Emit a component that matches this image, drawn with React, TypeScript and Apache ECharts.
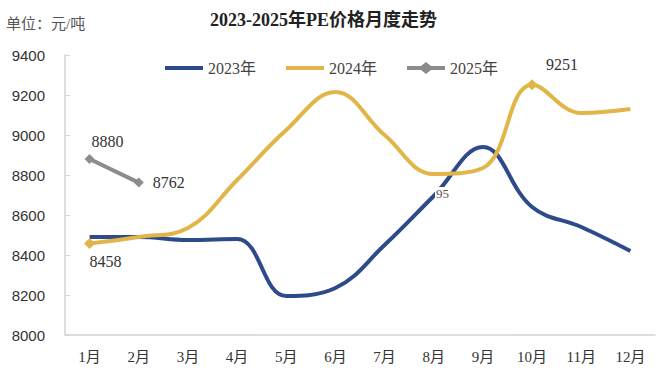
import React, { useEffect, useRef } from "react";
import * as echarts from "echarts";

const months = ["1月", "2月", "3月", "4月", "5月", "6月", "7月", "8月", "9月", "10月", "11月", "12月"];
const y2023 = [8490, 8490, 8475, 8480, 8195, 8235, 8450, 8695, 8940, 8640, 8540, 8420];
const y2024 = [8458, 8490, 8535, 8775, 9025, 9215, 9000, 8805, 8835, 9251, 9110, 9130];
const y2025 = [8880, 8762];
const yTicks = { min: 8000, max: 9400, interval: 200 };

const SERIF = "'Liberation Serif', 'DejaVu Serif', 'Noto Sans CJK SC', serif";
const SANS = "'Liberation Sans', Arial, 'Noto Sans CJK SC', sans-serif";

const LINE_ICON = "path://M0,3 H38 V7 H0 Z";
const DIAMOND_ICON = "path://M0,3 H14 L19,-1 L24,3 H38 V7 H24 L19,11 L14,7 H0 Z";

export default function App() {
  const ref = useRef<HTMLDivElement>(null);
  useEffect(() => {
    if (!ref.current) return;
    const chart = echarts.init(ref.current, null, { renderer: "svg" });
    const labelStyle = { fontFamily: SERIF, fontSize: 16, color: "#333" };
    chart.setOption({
      animation: false,
      backgroundColor: "#fff",
      title: {
        text: "2023-2025年PE价格月度走势",
        left: 205,
        top: 6,
        textStyle: { fontFamily: SERIF, fontSize: 18, fontWeight: "bold", color: "#222" },
      },
      graphic: [
        {
          type: "text",
          left: 6,
          top: 16,
          style: { text: "单位：元/吨", fontFamily: SERIF, fontSize: 15, fill: "#555" },
        },
        {
          type: "text",
          left: 435,
          top: 187,
          z: 100,
          style: {
            text: "95",
            fontFamily: SERIF,
            fontSize: 13,
            fill: "#555",
            backgroundColor: "#fff",
            padding: [0, 1],
          },
        },
      ],
      legend: {
        top: 55,
        left: 160,
        itemWidth: 38,
        itemHeight: 12,
        itemGap: 30,
        textStyle: { fontFamily: SERIF, fontSize: 16, color: "#444" },
        data: [
          { name: "2023年", icon: LINE_ICON },
          { name: "2024年", icon: LINE_ICON },
          { name: "2025年", icon: DIAMOND_ICON },
        ],
      },
      grid: { left: 65, right: 10, top: 55, bottom: 52, containLabel: false },
      xAxis: {
        type: "category",
        data: months,
        boundaryGap: true,
        axisLine: { lineStyle: { color: "#d4d4d4", width: 1.5 } },
        axisTick: { inside: true, length: 5, lineStyle: { color: "#d4d4d4" } },
        axisLabel: { fontFamily: SERIF, fontSize: 15, color: "#333", margin: 14 },
      },
      yAxis: {
        type: "value",
        min: yTicks.min,
        max: yTicks.max,
        interval: yTicks.interval,
        axisLine: { show: true, lineStyle: { color: "#d4d4d4", width: 1.5 } },
        axisTick: { show: true, inside: true, length: 5, lineStyle: { color: "#d4d4d4" } },
        splitLine: { show: false },
        axisLabel: {
          fontFamily: SANS,
          fontSize: 15,
          color: "#333",
          margin: 20,
          align: "right",
          formatter: (v: number) => String(v),
        },
      },
      series: [
        {
          name: "2023年",
          type: "line",
          smooth: 0.4,
          symbol: "none",
          data: y2023,
          lineStyle: { width: 4, color: "#2D4A8A" },
          itemStyle: { color: "#2D4A8A" },
        },
        {
          name: "2024年",
          type: "line",
          smooth: 0.4,
          symbol: "none",
          data: y2024.map((v, i) =>
            i === 0
              ? { value: v, symbol: "diamond", symbolSize: 11, label: { show: true, position: "bottom", offset: [16, 0], ...labelStyle } }
              : i === 9
              ? { value: v, symbol: "diamond", symbolSize: 11, label: { show: true, position: "top", offset: [30, -2], ...labelStyle } }
              : v
          ),
          lineStyle: { width: 4, color: "#E2B549" },
          itemStyle: { color: "#E2B549" },
        },
        {
          name: "2025年",
          type: "line",
          symbol: "diamond",
          symbolSize: 10,
          data: y2025.map((v, i) => ({
            value: v,
            label: {
              show: true,
              position: i === 0 ? "top" : "right",
              offset: i === 0 ? [18, 0] : [4, 0],
              ...labelStyle,
            },
          })),
          lineStyle: { width: 4, color: "#8C8C8C" },
          itemStyle: { color: "#8C8C8C" },
        },
      ],
    });
    return () => chart.dispose();
  }, []);
  return <div ref={ref} style={{ width: 665, height: 387, position: "absolute", left: 0, top: 0 }} />;
}
